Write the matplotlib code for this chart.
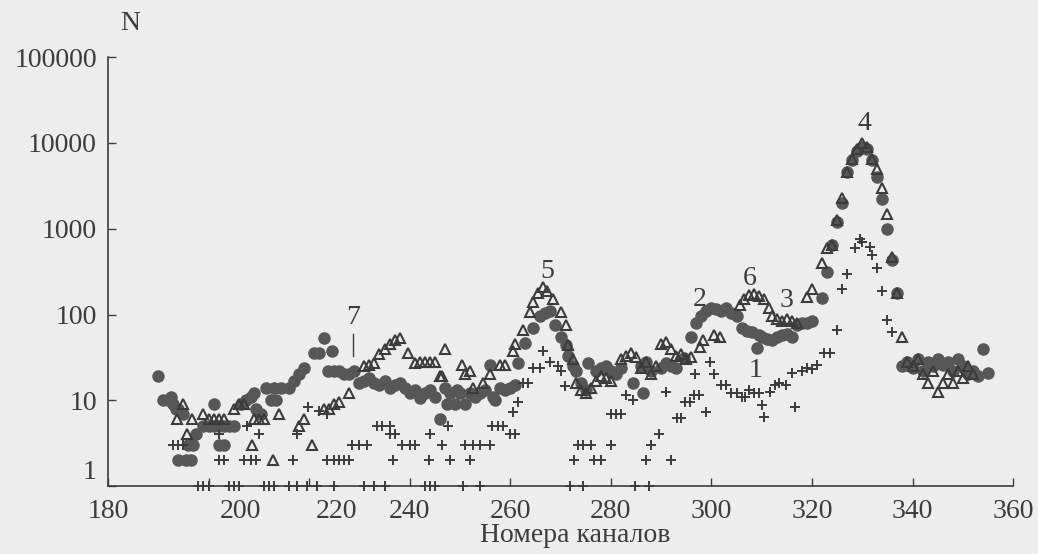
import numpy as np
import matplotlib
matplotlib.use("Agg")
import matplotlib.pyplot as plt
import matplotlib.transforms as mtransforms

# circles (filled)
circ_ch = [190, 191, 192, 192.5, 193, 193.5, 194, 195, 194, 195.5, 196.5, 196, 197, 197.5,
           199, 200, 201, 202, 203, 204, 205, 201, 202, 203, 206.5, 207.5, 208.5, 209, 209.5, 210.5,
           211.5, 213, 214.5, 216, 212.5, 213.5, 217, 218, 219, 221, 222, 223, 223.8,
           224.5, 225, 226, 227, 228, 229, 230, 231, 232, 233, 234, 235, 236, 237, 238, 239,
           240, 241, 242, 243, 244, 245, 246, 247, 247.5, 248, 249, 249.5, 250, 251, 252, 253,
           254, 255, 256, 256.5, 257, 258, 259, 260, 261, 261.5, 263, 264.5, 266, 267, 268,
           269, 270, 271, 271.5, 272.5, 273, 274, 275, 275.5, 277, 278, 279, 280, 281, 282,
           284.5, 286, 286.5, 287, 288, 290, 291, 292, 293, 294.5, 296, 297, 298, 299, 300,
           301, 302, 303, 304, 305, 306, 307, 308, 309, 309.5, 310, 311, 312, 313, 314, 315,
           316, 317, 318, 319, 320, 322, 323, 324, 325, 326, 327, 328, 329, 330, 331, 332,
           333, 334, 335, 336, 337, 338, 339, 340, 341, 342, 343, 344, 345, 346, 347, 348,
           349, 350, 351, 352, 353, 354, 355]
circ_n = [19, 10, 10, 11, 9, 8, 8, 7, 2, 2, 2, 3, 3, 4,
          5, 5, 5, 5, 5, 5, 5, 9, 3, 3, 9, 10, 11, 12, 8, 7,
          14, 14, 14, 14, 10, 10, 17, 20, 24, 36, 36, 53, 22,
          38, 22, 22, 20, 20, 22, 16, 17, 18, 16, 15, 17, 14, 15, 16, 14,
          12, 13, 10.6, 12, 13, 11, 6, 14, 9, 12, 9, 13, 12, 9, 12, 11,
          12, 13, 26, 11, 10, 14, 13, 14, 15, 27, 46, 70, 95, 105, 110,
          75, 55, 44, 33, 25, 22, 16, 13, 27, 22, 24, 25, 22, 20, 24,
          16, 25, 12, 28, 22, 24, 27, 25, 24, 31, 55, 80, 95, 110, 120,
          115, 110, 120, 105, 95, 70, 65, 63, 41, 58, 55, 52, 50, 55, 58, 60,
          55, 75, 80, 80, 85, 155, 310, 640, 1200, 2000, 4600, 6300, 8000, 9000, 8500, 6300,
          4000, 2200, 1000, 430, 180, 25, 28, 24, 30, 22, 28, 25, 30, 26, 28, 22,
          30, 25, 20, 22, 19, 40, 21]

# triangles (open)
tri_ch = [193.7, 195, 195.7, 196.7, 199, 200, 201, 202, 203, 205, 206, 207, 208.7, 209,
          210, 211, 212.8, 214, 218, 219, 220.5, 223, 224, 225, 226, 228, 231, 232, 233,
          234, 235, 236, 237, 238, 239.6, 241, 242, 243, 244, 245, 246, 247, 246.5, 250.5,
          251, 252, 252.6, 254.6, 256, 258, 259, 260.5, 261, 262.5, 264, 264.5, 265.5,
          266.5, 267.3, 268.5, 270, 271, 271.5, 272.5, 273, 274, 275, 276, 277, 278, 279,
          280, 282, 283, 284, 285, 286, 287, 288, 289, 290, 291, 292, 293, 294, 295, 296,
          297.7, 298.4, 300.6, 301.7, 305.7, 306.5, 307.5, 308.5, 309.5, 310.5, 311.5, 312,
          313, 314, 315, 316, 317, 319, 320, 322, 323, 324, 325, 326, 327, 328, 329, 330,
          331, 332, 333, 334, 335, 336, 337, 338, 339, 340, 341, 342, 343, 344, 345, 346,
          347, 348, 349, 350, 351, 352]
tri_n = [6, 9, 4, 6, 7, 6, 6, 6, 6, 8, 9, 9, 3, 6,
         6, 6, 2, 7, 5, 6, 3, 8, 8, 9, 9.5, 12, 25, 26, 27,
         35, 40, 45, 50, 53, 36, 27, 28, 28, 28, 28, 19, 40, 19, 26,
         20, 22, 14, 16, 20, 26, 26, 38, 45, 66, 107, 140, 180,
         210, 190, 150, 107, 75, 44, 30, 16, 13, 12, 14, 17, 19, 18,
         17, 30, 33, 36, 32, 24, 28, 20, 25, 45, 48, 40, 33, 35, 30, 32,
         42, 50, 58, 55, 130, 150, 170, 175, 165, 150, 120, 95,
         88, 85, 88, 85, 80, 160, 200, 400, 600, 650, 1250, 2300, 4600, 6500, 8500, 10000,
         9000, 6500, 5000, 3000, 1500, 470, 180, 55, 28, 25, 30, 20, 16, 22, 12.5, 16,
         20, 16, 22, 18, 25, 20]

# crosses
cross_ch = [198, 199, 200, 204, 205, 206, 211, 212, 213, 216, 217.5, 219.6, 221.6, 225, 231,
            233, 235, 243, 244, 245, 250.7, 254, 271.8, 274.4, 284.8, 287.5,
            202, 203, 207, 208.5, 209.5, 216.8, 223.5, 225, 226, 227, 228, 236.7, 243.8,
            248, 252, 272.6, 276.6, 278, 287, 292,
            193, 194, 195, 228.5, 230, 231.5, 238.5, 240, 241, 246.5, 251, 252.5, 254, 256,
            273.5, 274.5, 276, 280, 288,
            202, 210, 217.6, 236, 237, 244, 260, 261, 289.6,
            207.6, 233.5, 234.5, 236, 247.7, 256.4, 257.5, 258.5,
            219.8, 222, 223.5, 260.6, 261.6, 262.5, 263.5, 264.6, 266, 266.6, 268, 269.5,
            270, 270.8, 280, 281, 282, 283, 284.5, 291, 293.2, 294, 294.7, 295.7, 296.5,
            297.5, 296.7, 298.9, 299.7, 300.6, 302, 303, 304, 305, 306, 306.6, 307.5, 308.5,
            309.5, 310, 310.5, 311.6, 312.6, 313.5, 314.8, 316, 316.7, 318, 319, 320, 321,
            322.4, 323.5, 325, 326, 327, 328.5, 329.6, 330, 331.5, 332, 333, 334, 335, 336]
cross_n = [1] * 26 + [2] * 20 + [3] * 19 + [4] * 9 + [5] * 8 + \
          [8.4, 7.5, 7, 7.3, 9.6, 16, 16, 24, 24, 38, 28, 25,
           22, 14.6, 7, 7, 7, 11.5, 10, 12.5, 6.2, 6.2, 9.5, 9.5, 11.5,
           11.5, 20, 7.3, 28, 20, 15, 15, 12, 12, 11, 11, 13, 12,
           12, 8.8, 6.4, 12.5, 15, 16, 15, 21, 8.3, 22, 24, 23, 26,
           36, 36, 66, 200, 300, 600, 760, 700, 610, 500, 350, 190, 86, 63]

# peak labels
peak_labels = ["7", "5", "2", "6", "3", "1", "4"]
peak_ch = [228.7, 267.3, 297.7, 307.7, 315, 308.7, 330.5]
peak_n = [92, 320, 150, 260, 145, 22.5, 17000]

xtick_vals = [180, 200, 220, 240, 260, 280, 300, 320, 340, 360]
xlabel_pos = [180, 206.3, 225.5, 240, 260, 280, 300, 320, 340, 360]
ytick_vals = [1, 10, 100, 1000, 10000, 100000]

ink = "#3c3c3c"
plt.rcParams["font.family"] = ["Liberation Serif", "DejaVu Serif"]

fig = plt.figure(figsize=(10.38, 5.54), dpi=100, facecolor="#ededed")
ax = fig.add_axes([0.104, 0.1227, 0.872, 0.774])
ax.set_facecolor("#ededed")

ax.plot(circ_ch, circ_n, "o", ms=8, color="#575757", mec="#575757", clip_on=False)
ax.plot(tri_ch, tri_n, "^", ms=7.5, mfc="none", mec=ink, mew=1.5, clip_on=False)
ax.plot(cross_ch, cross_n, "+", ms=7.5, color=ink, mew=1.4, clip_on=False)

ax.set_yscale("log")
ax.set_xlim(180, 360)
ax.set_ylim(1, 100000)
ax.set_yticks(ytick_vals)
ax.set_yticklabels([str(v) for v in ytick_vals])
ax.yaxis.set_minor_locator(matplotlib.ticker.NullLocator())
ax.set_xticks(xtick_vals)
ax.set_xticklabels([])
ax.tick_params(direction="in", length=6, width=1, colors=ink, labelsize=20, pad=8)

# the "1" label sits a little above its tick in the original
lab1 = ax.get_yticklabels()[0]
lab1.set_transform(lab1.get_transform() +
                   mtransforms.ScaledTranslation(0, 12 / 72, fig.dpi_scale_trans))

trans = mtransforms.blended_transform_factory(ax.transData, ax.transAxes)
for pos, val in zip(xlabel_pos, xtick_vals):
    ax.text(pos, -0.03, str(val), transform=trans, ha="center", va="top",
            fontsize=20, color=ink)

for side in ["top", "right"]:
    ax.spines[side].set_visible(False)
for side in ["left", "bottom"]:
    ax.spines[side].set_color(ink)
    ax.spines[side].set_linewidth(1.2)

for lab, c, n in zip(peak_labels, peak_ch, peak_n):
    ax.text(c, n, lab, ha="center", va="center", fontsize=20, color=ink)
ax.plot([peak_ch[0], peak_ch[0]], [33, 60], color=ink, lw=1)

fig.text(0.125, 0.958, "N", ha="center", va="center", fontsize=20, color=ink)
fig.text(0.554, 0.034, "Номера каналов", ha="center", va="center", fontsize=20, color=ink)

fig.savefig("out.png", dpi=100, facecolor=fig.get_facecolor())
